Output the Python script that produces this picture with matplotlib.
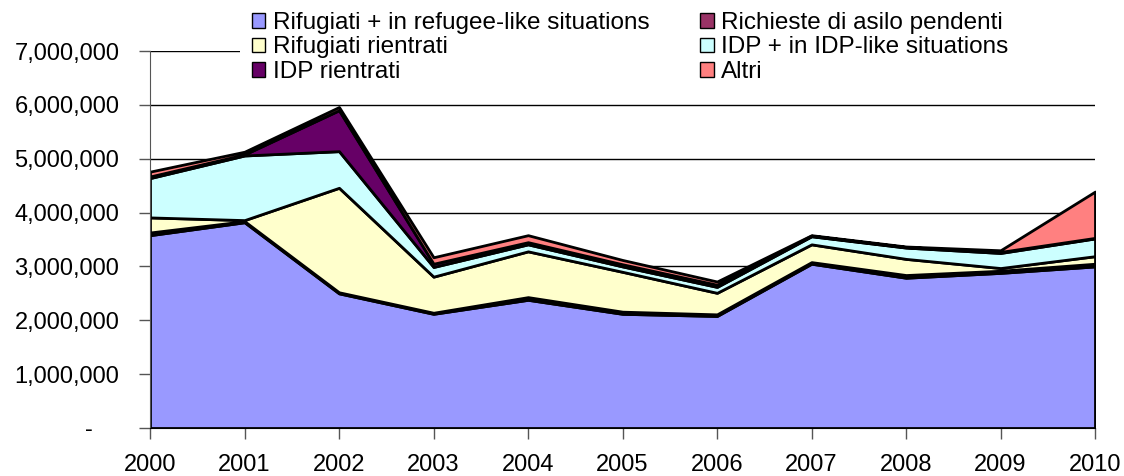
import matplotlib
matplotlib.use("Agg")
import matplotlib.pyplot as plt
from matplotlib.ticker import FuncFormatter
from matplotlib.patches import Patch, Rectangle

years = [2000, 2001, 2002, 2003, 2004, 2005, 2006, 2007, 2008, 2009, 2010]

rifugiati = [3580000, 3820000, 2500000, 2120000, 2380000, 2120000, 2080000, 3050000, 2790000, 2880000, 3000000]
richieste_asilo = [50000, 20000, 20000, 20000, 50000, 40000, 30000, 30000, 50000, 40000, 50000]
rifugiati_rientrati = [280000, 20000, 1940000, 670000, 850000, 740000, 400000, 330000, 300000, 50000, 140000]
idp = [730000, 1200000, 680000, 180000, 130000, 100000, 110000, 150000, 210000, 280000, 330000]
idp_rientrati = [30000, 20000, 760000, 60000, 40000, 40000, 40000, 10000, 10000, 20000, 10000]
altri = [90000, 50000, 60000, 120000, 130000, 80000, 60000, 10000, 10000, 30000, 860000]

labels = [
    "Rifugiati + in refugee-like situations",
    "Richieste di asilo pendenti",
    "Rifugiati rientrati",
    "IDP + in IDP-like situations",
    "IDP rientrati",
    "Altri",
]
colors = ["#9999FF", "#993366", "#FFFFCC", "#CCFFFF", "#660066", "#FF8080"]

plt.rcParams["font.family"] = ["Liberation Sans", "DejaVu Sans"]

W, H = 1124, 476
fig = plt.figure(figsize=(W / 100, H / 100), dpi=100)
ax = fig.add_axes([150 / W, 1 - 428 / H, (1095 - 150) / W, (428 - 51) / H])

ax.stackplot(years, rifugiati, richieste_asilo, rifugiati_rientrati, idp,
             idp_rientrati, altri, colors=colors, edgecolor="black",
             linewidth=2.0, zorder=3)

ax.set_xlim(2000, 2010)
ax.set_ylim(0, 7000000)
ax.set_xticks(years)
ax.set_yticks(range(0, 7000001, 1000000))
ax.yaxis.set_major_formatter(
    FuncFormatter(lambda v, p: "-    " if v == 0 else f"{v:,.0f}"))
ax.grid(axis="y", color="black", linewidth=1.0, zorder=1)
ax.set_axisbelow(True)

for side in ("top", "right"):
    ax.spines[side].set_visible(False)
ax.spines["left"].set_color("#555555")
ax.spines["bottom"].set_color("black")
ax.spines["left"].set_zorder(4)
ax.spines["bottom"].set_zorder(4)
ax.tick_params(axis="both", colors="#555555", labelcolor="black", labelsize=17,
               length=8, width=1.0)
ax.tick_params(axis="x", pad=11)
ax.tick_params(axis="y", pad=14)

# white band behind the legend
fig.patches.append(Rectangle((240 / W, 1 - 86 / H), (W - 240) / W, 78 / H,
                             transform=fig.transFigure, facecolor="white",
                             edgecolor="none", zorder=5))

handles = [Patch(facecolor=c, edgecolor="black", linewidth=1.0) for c in colors]
order = [0, 2, 4, 1, 3, 5]
leg = fig.legend([handles[i] for i in order], [labels[i] for i in order],
                 ncol=2, loc="upper left", bbox_to_anchor=(252 / W, 1 - 12 / H),
                 frameon=False, fontsize=17.5, handlelength=0.55, handleheight=0.55,
                 handletextpad=0.3, columnspacing=2.1, labelspacing=0.1,
                 borderpad=0.0, borderaxespad=0)
leg.set_zorder(6)

fig.savefig("out.png", dpi=100)
